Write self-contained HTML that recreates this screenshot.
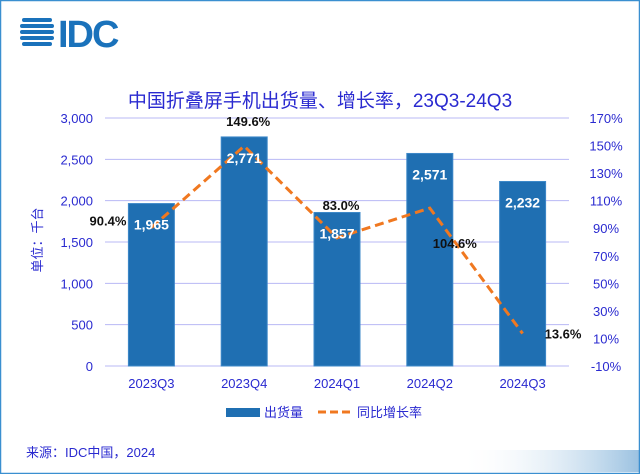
<!DOCTYPE html>
<html><head><meta charset="utf-8"><style>
body{margin:0;background:#fff}
svg{display:block;font-family:"Liberation Sans","Noto Sans CJK SC",sans-serif}
</style></head><body>
<svg width="640" height="474" viewBox="0 0 640 474">
<defs><linearGradient id="fade" x1="0" x2="1" y1="0" y2="0"><stop offset="0" stop-color="#fff" stop-opacity="0"/><stop offset="1" stop-color="#2f7fc0" stop-opacity="0.8"/></linearGradient></defs>
<rect x="0.5" y="0.5" width="639" height="473" fill="#fff" stroke="#3a8fd0" stroke-width="1.5"/>
<rect x="460" y="450" width="179" height="22" fill="url(#fade)" opacity="0.6"/>
<g fill="#1a72bb">
<rect x="22" y="18" width="30" height="4" rx="2"/><rect x="20" y="24" width="34" height="4" rx="2"/><rect x="20" y="30" width="34" height="4" rx="2"/><rect x="20" y="36" width="34" height="4" rx="2"/><rect x="22" y="42" width="30" height="4" rx="2"/>
<text x="58" y="47" font-size="38" font-weight="bold" letter-spacing="-2">IDC</text>
</g>
<text x="320" y="107" text-anchor="middle" font-size="19" fill="#2a2ad0">中国折叠屏手机出货量、增长率，23Q3-24Q3</text>
<g id="grid"></g><g id="bars"></g><g id="line"></g><g id="labels"></g>
<text transform="translate(42,240) rotate(-90)" text-anchor="middle" font-size="13" fill="#2a2ad0">单位：千台</text>
<g>
<rect x="226" y="408" width="34" height="9" fill="#1f6fb2"/>
<text x="264" y="417" font-size="13" fill="#2a2ad0">出货量</text>
<line x1="318" y1="412" x2="352" y2="412" stroke="#f07820" stroke-width="3" stroke-dasharray="8,4"/>
<text x="357" y="417" font-size="13" fill="#2a2ad0">同比增长率</text>
</g>
<text x="26" y="457" font-size="13" fill="#2a2ad0">来源：IDC中国，2024</text>
</svg>
<script>
const categories=["2023Q3","2023Q4","2024Q1","2024Q2","2024Q3"];
const shipments=[1965,2771,1857,2571,2232];
const growth=[90.4,149.6,83.0,104.6,13.6];
const leftTicks=[0,500,1000,1500,2000,2500,3000];
const rightTicks=[-10,10,30,50,70,90,110,130,150,170];
const NS="http://www.w3.org/2000/svg";
const x0=105,x1=569,yTop=118,yBot=366;
const band=(x1-x0)/categories.length;
const xC=i=>x0+band*(i+0.5);
const yL=v=>yBot-(v/3000)*(yBot-yTop);
const yR=v=>yBot-((v+10)/180)*(yBot-yTop);
function mk(tag,attrs,parent,txt){const e=document.createElementNS(NS,tag);for(const k in attrs)e.setAttribute(k,attrs[k]);if(txt!=null)e.textContent=txt;document.getElementById(parent).appendChild(e);return e;}
leftTicks.forEach(t=>{
 const g=mk('line',{x1:x0,x2:x1,y1:yL(t),y2:yL(t),stroke:'#b8b8f4','stroke-width':1},'grid');
 
 
 const l=mk('text',{x:93,y:yL(t)+5,'text-anchor':'end','font-size':13,fill:'#2a2ad0'},'grid',t.toLocaleString('en-US'));
 
 
});
rightTicks.forEach(t=>{
 const l=mk('text',{x:606,y:yR(t)+5,'text-anchor':'middle','font-size':13,fill:'#2a2ad0'},'grid',t+'%');
 
 
});
categories.forEach((c,i)=>{
 const l=mk('text',{x:xC(i),y:388,'text-anchor':'middle','font-size':13,fill:'#2a2ad0'},'grid',c);
 
 
});
const bw=46;
shipments.forEach((v,i)=>{
 const b=mk('rect',{x:xC(i)-bw/2,y:yL(v),width:bw,height:yBot-yL(v),fill:'#1f6fb2',stroke:'#3d88c8','stroke-width':1},'bars');
 
 
 const t=mk('text',{x:xC(i),y:yL(v)+26,'text-anchor':'middle','font-size':14,'font-weight':'bold',fill:'#fff'},'labels',v.toLocaleString('en-US'));
 
 
});
const pts=growth.map((v,i)=>xC(i)+','+yR(v)).join(' ');
const pl=mk('polyline',{points:pts,fill:'none',stroke:'#f07820','stroke-width':3,'stroke-dasharray':'9,5'},'line');


const offs=[[-25,-2,'end'],[4,-20,'middle'],[4,-28,'middle'],[25,40,'middle'],[22,5,'start']];
growth.forEach((v,i)=>{
 const o=offs[i];
 const t=mk('text',{x:xC(i)+o[0],y:yR(v)+o[1],'text-anchor':o[2],'font-size':13,'font-weight':'bold',fill:'#111'},'labels',v.toFixed(1)+'%');
 
 
});
</script>
</body></html>
